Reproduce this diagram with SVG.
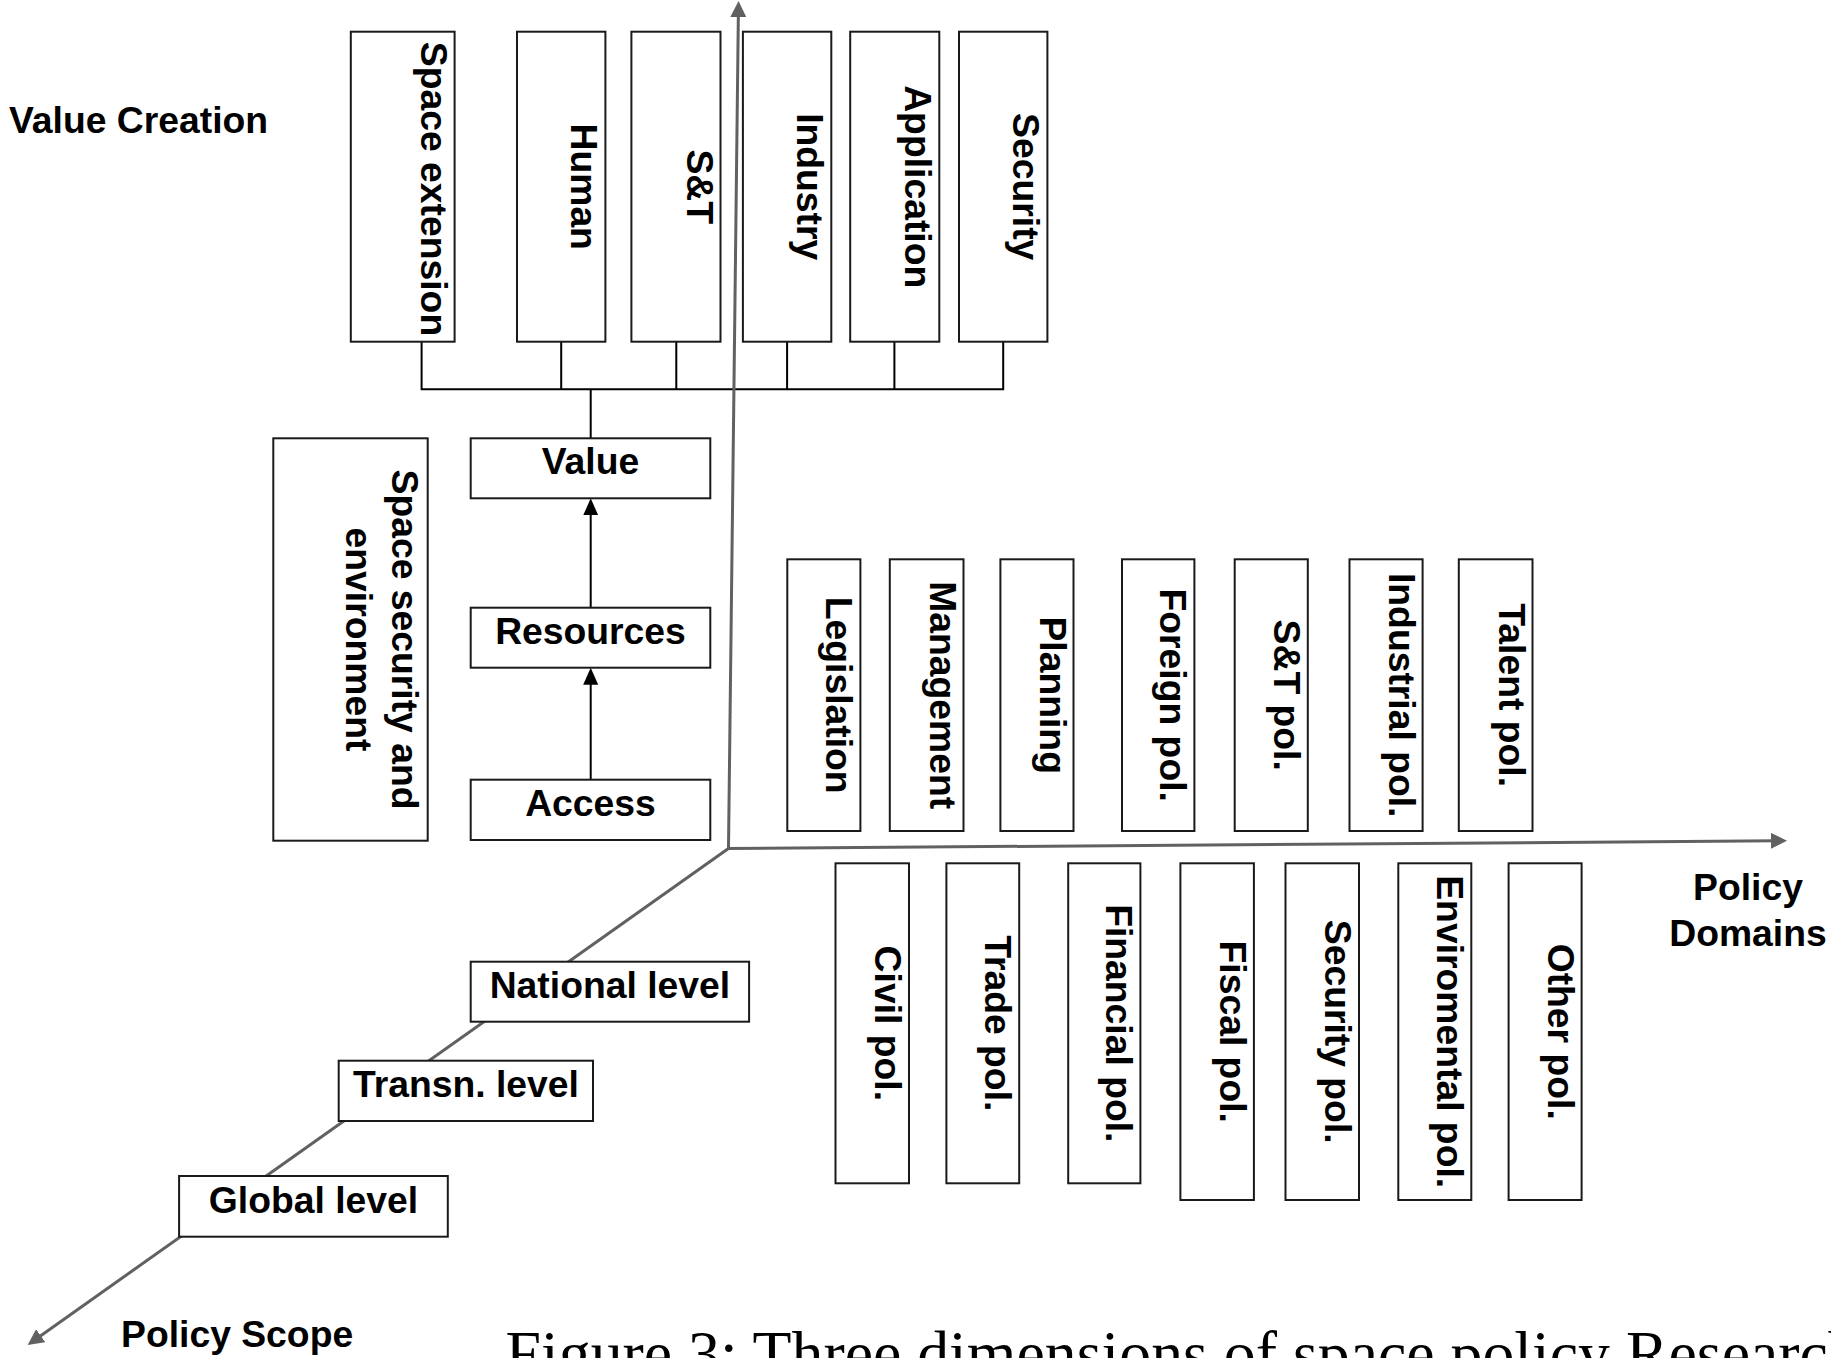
<svg xmlns="http://www.w3.org/2000/svg" width="1831" height="1358" viewBox="0 0 1831 1358">
<defs>
<style>
.box{fill:#fff;stroke:#1a1a1a;stroke-width:2}
.t{font-family:"Liberation Sans",Arial,sans-serif;font-weight:bold;font-size:37.3px;fill:#000}
.c{text-anchor:middle}
.axis{fill:none;stroke:#616161;stroke-width:3}
.tree{fill:none;stroke:#000;stroke-width:2}
</style>
<marker id="ah" viewBox="0 0 16 16" refX="6" refY="8" markerWidth="16" markerHeight="16" markerUnits="userSpaceOnUse" orient="auto">
<path d="M0,0 L16,8 L0,16 z" fill="#616161"/>
</marker>
<marker id="bh" viewBox="0 0 17 15" refX="7" refY="7.5" markerWidth="17" markerHeight="15" markerUnits="userSpaceOnUse" orient="auto">
<path d="M0,0 L17,7.5 L0,15 z" fill="#000"/>
</marker>
</defs>
<rect width="1831" height="1358" fill="#fff"/>

<g id="connectors">
<path class="tree" d="M421.6,341.7 V389.3 M561.2,341.7 V389.3 M676.3,341.7 V389.3 M787.1,341.7 V389.3 M894.4,341.7 V389.3 M1003.2,341.7 V389.3 M420.6,389.3 H1004.2 M590.7,389.3 V438.3"/>
<line class="tree" x1="590.7" y1="779.7" x2="590.7" y2="677.7" marker-end="url(#bh)"/>
<line class="tree" x1="590.7" y1="607.7" x2="590.7" y2="508.3" marker-end="url(#bh)"/>
<line class="axis" x1="728.5" y1="848.5" x2="738.4" y2="11" marker-end="url(#ah)"/>
<line class="axis" x1="727" y1="848.5" x2="1777" y2="840.8" marker-end="url(#ah)"/>
<line class="axis" x1="729.5" y1="847.8" x2="35.8" y2="1339.2" marker-end="url(#ah)"/>
</g>

<g id="labels">
<text class="t" x="9" y="133">Value Creation</text>
<text class="t c" x="1748" y="900">Policy</text>
<text class="t c" x="1748" y="946">Domains</text>
<text class="t" x="121" y="1347">Policy Scope</text>
<text x="505.6" y="1374.5" style="font-family:'Liberation Serif','Times New Roman',serif;font-size:63.8px;fill:#000">Figure 3: Three dimensions of space policy Research</text>
</g>

<g id="n-space-extension"><rect class="box" x="350.8" y="31.7" width="103.8" height="310"/><text class="t c" transform="translate(420.6,189) rotate(90)">Space extension</text></g>
<g id="n-human"><rect class="box" x="517" y="31.7" width="88.4" height="310"/><text class="t c" transform="translate(571.4,186.7) rotate(90)">Human</text></g>
<g id="n-st"><rect class="box" x="631.4" y="31.7" width="89.1" height="310"/><text class="t c" transform="translate(686.5,186.7) rotate(90)">S&amp;T</text></g>
<g id="n-industry"><rect class="box" x="742.9" y="31.7" width="88.4" height="310"/><text class="t c" transform="translate(797.3,186.7) rotate(90)">Industry</text></g>
<g id="n-application"><rect class="box" x="850.2" y="31.7" width="89.1" height="310"/><text class="t c" transform="translate(905.3,186.7) rotate(90)">Application</text></g>
<g id="n-security"><rect class="box" x="959" y="31.7" width="88.4" height="310"/><text class="t c" transform="translate(1013.4,186.7) rotate(90)">Security</text></g>

<g id="n-space-security"><rect class="box" x="273.3" y="438.3" width="154.4" height="402.4"/><text class="t c" transform="translate(392,639.5) rotate(90)"><tspan x="0" y="0">Space security and</tspan><tspan x="0" y="46">environment</tspan></text></g>
<g id="n-value"><rect class="box" x="470.7" y="438.3" width="239.6" height="60"/><text class="t c" x="590.5" y="474.3">Value</text></g>
<g id="n-resources"><rect class="box" x="470.7" y="607.7" width="239.6" height="60"/><text class="t c" x="590.5" y="643.7">Resources</text></g>
<g id="n-access"><rect class="box" x="470.7" y="779.7" width="239.6" height="60.3"/><text class="t c" x="590.5" y="816">Access</text></g>

<g id="n-legislation"><rect class="box" x="787.3" y="559.3" width="73.1" height="271.7"/><text class="t c" transform="translate(826.4,695.2) rotate(90)">Legislation</text></g>
<g id="n-management"><rect class="box" x="889.8" y="559.3" width="73.7" height="271.7"/><text class="t c" transform="translate(929.5,695.2) rotate(90)">Management</text></g>
<g id="n-planning"><rect class="box" x="1000.4" y="559.3" width="73.1" height="271.7"/><text class="t c" transform="translate(1039.5,695.2) rotate(90)">Planning</text></g>
<g id="n-foreign"><rect class="box" x="1122" y="559.3" width="72.4" height="271.7"/><text class="t c" transform="translate(1160.4,695.2) rotate(90)">Foreign pol.</text></g>
<g id="n-st-pol"><rect class="box" x="1234.7" y="559.3" width="73.1" height="271.7"/><text class="t c" transform="translate(1273.8,695.2) rotate(90)">S&amp;T pol.</text></g>
<g id="n-industrial"><rect class="box" x="1349.5" y="559.3" width="73.1" height="271.7"/><text class="t c" transform="translate(1388.6,695.2) rotate(90)">Industrial pol.</text></g>
<g id="n-talent"><rect class="box" x="1458.8" y="559.3" width="73.7" height="271.7"/><text class="t c" transform="translate(1498.5,695.2) rotate(90)">Talent pol.</text></g>

<g id="n-civil"><rect class="box" x="835.5" y="863.3" width="73.5" height="320"/><text class="t c" transform="translate(875,1023.3) rotate(90)">Civil pol.</text></g>
<g id="n-trade"><rect class="box" x="946.4" y="863.3" width="72.8" height="320"/><text class="t c" transform="translate(985.2,1023.3) rotate(90)">Trade pol.</text></g>
<g id="n-financial"><rect class="box" x="1068.2" y="863.3" width="72.2" height="320"/><text class="t c" transform="translate(1106.4,1023.3) rotate(90)">Financial pol.</text></g>
<g id="n-fiscal"><rect class="box" x="1180.4" y="863.3" width="73.5" height="336.7"/><text class="t c" transform="translate(1219.9,1031.7) rotate(90)">Fiscal pol.</text></g>
<g id="n-security-pol"><rect class="box" x="1285.5" y="863.3" width="73.5" height="336.7"/><text class="t c" transform="translate(1325,1031.7) rotate(90)">Security pol.</text></g>
<g id="n-environmental"><rect class="box" x="1398.3" y="863.3" width="73" height="336.7"/><text class="t c" transform="translate(1437.3,1031.7) rotate(90)">Enviromental pol.</text></g>
<g id="n-other"><rect class="box" x="1508.6" y="863.3" width="73" height="336.7"/><text class="t c" transform="translate(1547.6,1031.7) rotate(90)">Other pol.</text></g>

<g id="n-national"><rect class="box" x="470.7" y="961.7" width="278.4" height="60"/><text class="t c" x="609.9" y="997.7">National level</text></g>
<g id="n-transn"><rect class="box" x="338.7" y="1060.7" width="254.3" height="60.3"/><text class="t c" x="465.9" y="1097.3">Transn. level</text></g>
<g id="n-global"><rect class="box" x="179.1" y="1176" width="268.7" height="60.7"/><text class="t c" x="313.5" y="1213">Global level</text></g>
</svg>
